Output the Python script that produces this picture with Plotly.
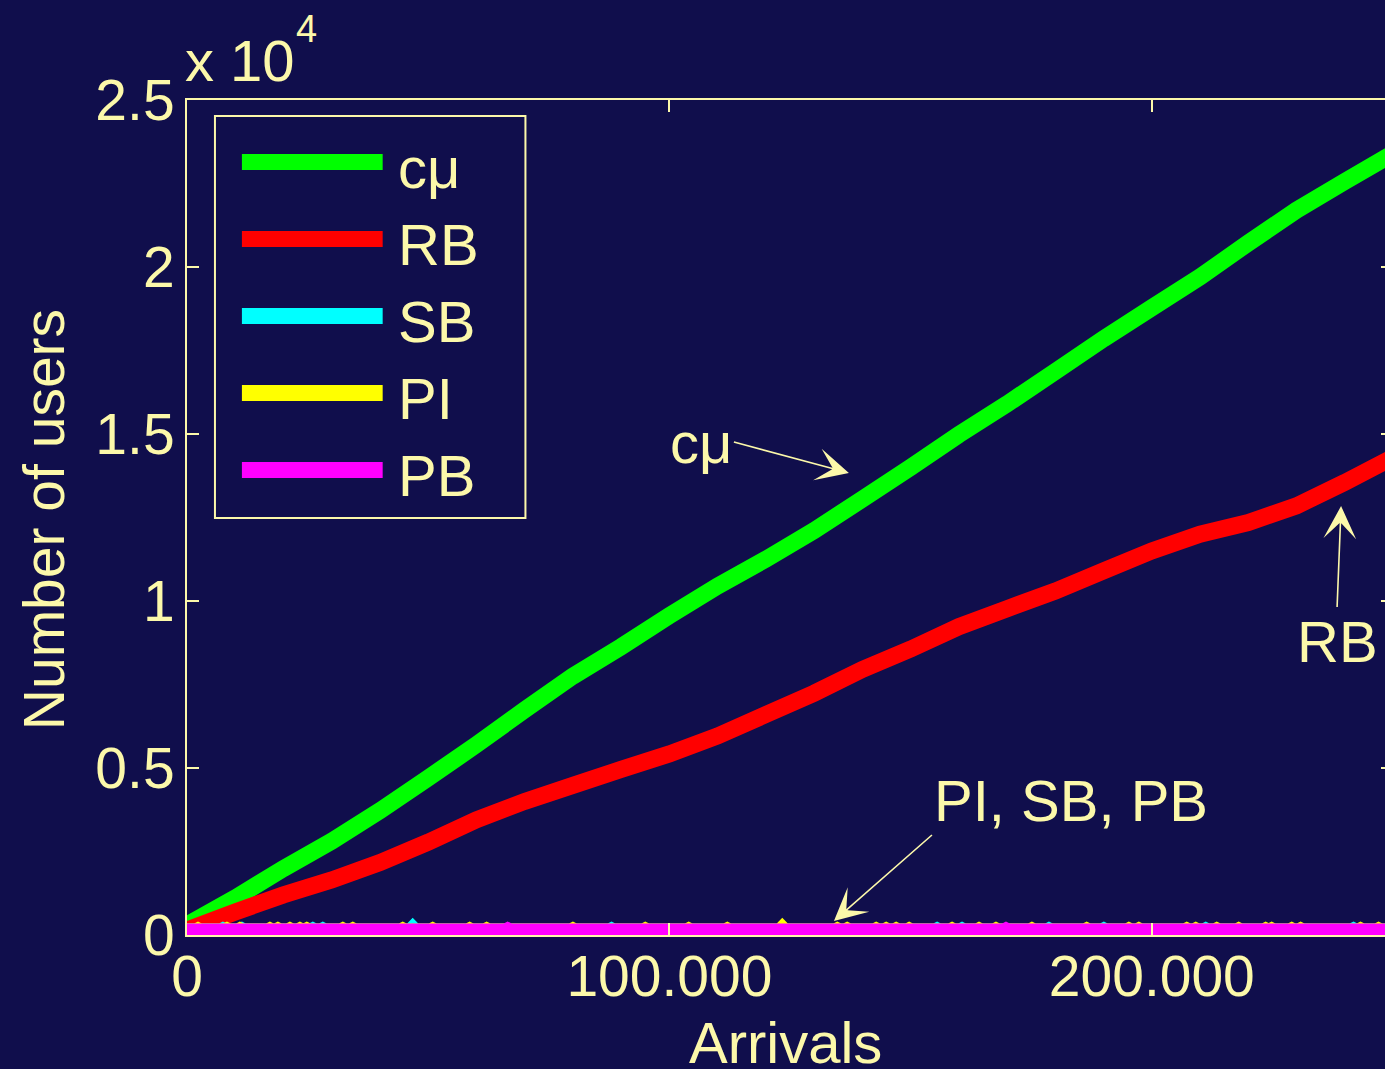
import plotly.graph_objects as go

# ---- data -------------------------------------------------------------
arrivals = [0, 10000, 20000, 30000, 40000, 50000, 60000, 70000, 80000, 90000,
            100000, 110000, 120000, 130000, 140000, 150000, 160000, 170000,
            180000, 190000, 200000, 210000, 220000, 230000, 240000, 250000]

cmu_users = [300, 1110, 1990, 2810, 3720, 4700, 5700, 6740, 7750, 8630,
             9560, 10450, 11250, 12110, 13050, 14000, 14980, 15900,
             16870, 17850, 18780, 19700, 20720, 21700, 22560, 23400]

rb_users = [150, 690, 1200, 1650, 2170, 2780, 3450, 4000, 4480, 4960,
            5420, 5960, 6600, 7240, 7950, 8560, 9230, 9770,
            10300, 10900, 11500, 12000, 12350, 12850, 13550, 14300]

# PI, SB and PB stay near an almost empty queue; short excursions above it
low_level = 90
sb_peak_x = [7450, 11390, 26090, 28160, 46790, 88000, 155490, 160660,
             178680, 190060, 211180, 241820]
sb_peak_y = [120, 120, 120, 120, 150, 120, 120, 120, 120, 120, 120, 120]

pi_peak_x = [2280, 8280, 10970, 17180, 18840, 21330, 23400, 24840, 32300,
             34370, 44720, 50930, 58590, 62110, 80000, 95000, 104000, 112000,
             123400, 134800, 136850, 142860, 144930, 147000, 149690, 158590,
             164180, 167700, 175150, 186500, 195240, 197310, 207250, 209110,
             213460, 218010, 223600, 224840, 229000, 230850, 243270, 247000]
pi_peak_y = [120, 120, 120, 120, 120, 120, 120, 120, 120,
             120, 120, 120, 120, 120, 120, 120, 120, 120,
             150, 120, 120, 120, 120, 120, 120, 120,
             120, 120, 120, 120, 120, 120, 120, 120,
             120, 120, 120, 120, 120, 120, 120, 120]

pb_peak_x = [66460, 169770]
pb_peak_y = [120, 120]

series_names = ["cμ", "RB", "SB", "PI", "PB"]
series_colors = ["#00FF00", "#FF0000", "#00FFFF", "#FFFF00", "#FF00FF"]

x_tick_vals = [0, 100000, 200000]
x_tick_text = ["0", "100.000", "200.000"]
y_tick_vals = [0, 5000, 10000, 15000, 20000, 25000]
y_tick_text = ["0", "0.5", "1", "1.5", "2", "2.5"]

# ---- styling ----------------------------------------------------------
BG = "#100E4C"
FG = "#FCF8AA"
FONT = "Liberation Sans"
X_MAX = 250000
Y_MAX = 25000

FIG_W, FIG_H = 1400, 1069
M_L, M_R, M_T, M_B = 187, 5, 100, 134
PLOT_W = FIG_W - M_L - M_R
PLOT_H = FIG_H - M_T - M_B


def paper_x(px):
    return (px - M_L) / PLOT_W


def paper_y(py):
    return (M_T + PLOT_H - py) / PLOT_H


def with_excursions(level, peak_x, peak_y, half=400):
    xs, ys = [0], [level]
    for px_, py_ in sorted(zip(peak_x, peak_y)):
        xs += [px_ - half, px_, px_ + half]
        ys += [level, py_, level]
    xs.append(X_MAX)
    ys.append(level)
    return xs, ys


sb_x, sb_y = with_excursions(low_level, sb_peak_x, sb_peak_y)
pi_x, pi_y = with_excursions(low_level, pi_peak_x, pi_peak_y)
pb_x, pb_y = with_excursions(low_level, pb_peak_x, pb_peak_y)

series_xy = [(arrivals, cmu_users), (arrivals, rb_users),
             (sb_x, sb_y), (pi_x, pi_y), (pb_x, pb_y)]

fig = go.Figure()
for name, color, (xs, ys) in zip(series_names, series_colors, series_xy):
    fig.add_trace(go.Scatter(
        x=xs, y=ys, mode="lines", name=name,
        line=dict(color=color, width=17, simplify=False),
        showlegend=False, hoverinfo="skip",
    ))

axis_common = dict(
    showline=True, linecolor=FG, linewidth=2, mirror="ticks",
    ticks="inside", ticklen=12, tickwidth=2, tickcolor=FG,
    showgrid=False, zeroline=False,
    tickfont=dict(family=FONT, size=57, color=FG),
)

fig.update_xaxes(range=[0, X_MAX], tickmode="array",
                 tickvals=x_tick_vals, ticktext=x_tick_text,
                 ticklabelstandoff=-9, **axis_common)
fig.update_yaxes(range=[0, Y_MAX], tickmode="array",
                 tickvals=y_tick_vals, ticktext=y_tick_text,
                 ticklabelstandoff=-1, **axis_common)

annotations = []
shapes = []

# exponent label above the y axis
annotations.append(dict(
    xref="paper", yref="paper", x=paper_x(183), y=paper_y(95),
    xanchor="left", yanchor="bottom", showarrow=False,
    text="x 10", font=dict(family=FONT, size=58, color=FG),
))
annotations.append(dict(
    xref="paper", yref="paper", x=paper_x(294), y=paper_y(29),
    xanchor="left", yanchor="middle", showarrow=False,
    text="4", font=dict(family=FONT, size=38, color=FG),
))

# axis titles
annotations.append(dict(
    xref="paper", yref="paper", x=paper_x(786), y=paper_y(1042),
    xanchor="center", yanchor="middle", showarrow=False,
    text="Arrivals", font=dict(family=FONT, size=58, color=FG),
))
annotations.append(dict(
    xref="paper", yref="paper", x=paper_x(44), y=paper_y(520),
    xanchor="center", yanchor="middle", showarrow=False, textangle=-90,
    text="Number of users", font=dict(family=FONT, size=57, color=FG),
))

# legend box
shapes.append(dict(
    type="rect", xref="paper", yref="paper",
    x0=paper_x(215), x1=paper_x(526), y0=paper_y(518), y1=paper_y(116),
    line=dict(color=FG, width=2), fillcolor=BG, layer="above",
))
legend_top = 162
legend_step = 77
for i, (name, color) in enumerate(zip(series_names, series_colors)):
    yc = legend_top + i * legend_step
    shapes.append(dict(
        type="line", xref="paper", yref="paper",
        x0=paper_x(242), x1=paper_x(383), y0=paper_y(yc), y1=paper_y(yc),
        line=dict(color=color, width=16), layer="above",
    ))
    annotations.append(dict(
        xref="paper", yref="paper", x=paper_x(396), y=paper_y(yc + 5),
        xanchor="left", yanchor="middle", showarrow=False,
        text=name, font=dict(family=FONT, size=58, color=FG),
    ))

# in-plot labels: arrow tip in data units, label anchor as pixel offset
callouts = [
    ("cμ", 137210, 13832, -115, -31, "right", "middle"),
    ("RB", 239240, 12844, -4, 101, "center", "top"),
    ("PI, SB, PB", 134110, 419, 98, -86, "left", "bottom"),
]
for text, tx, ty, ax, ay, xa, ya in callouts:
    annotations.append(dict(
        xref="x", yref="y", x=tx, y=ty, ax=ax, ay=ay,
        xanchor=xa, yanchor=ya,
        text=text, font=dict(family=FONT, size=58, color=FG),
        showarrow=True, arrowhead=3, arrowsize=3.4,
        arrowwidth=1.6, arrowcolor=FG,
    ))

fig.update_layout(
    width=FIG_W, height=FIG_H,
    margin=dict(l=M_L, r=M_R, t=M_T, b=M_B, pad=0),
    paper_bgcolor=BG, plot_bgcolor=BG,
    font=dict(family=FONT, color=FG),
    showlegend=False,
    annotations=annotations, shapes=shapes,
)

fig.write_html(
    "out.html",
    post_script="document.documentElement.style.overflow='hidden';"
                "document.body.style.overflow='hidden';",
)
